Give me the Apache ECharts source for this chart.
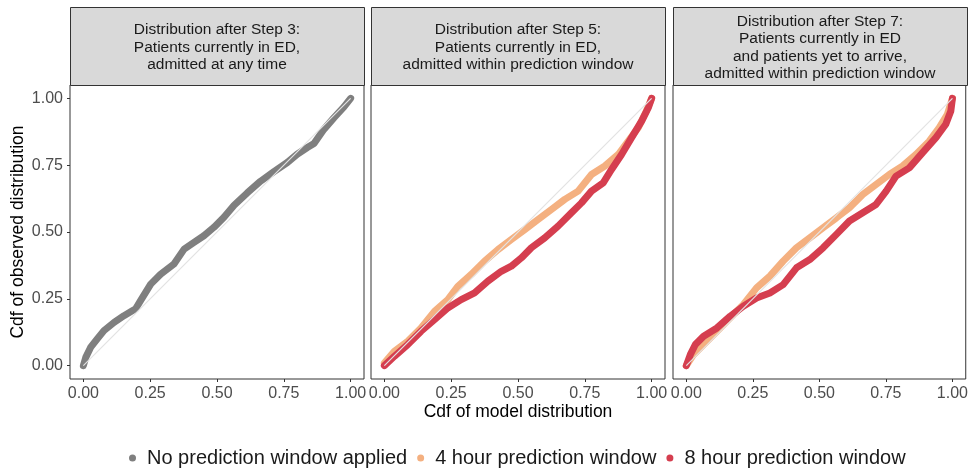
<!DOCTYPE html>
<html>
<head>
<meta charset="utf-8">
<script src="https://cdn.jsdelivr.net/npm/echarts@6/dist/echarts.min.js"></script>
<style>
html,body{margin:0;padding:0;background:#fff;}
#chart{width:971px;height:469px;}
</style>
</head>
<body>
<div id="chart"></div>
<script>
// ---------------- data ----------------
var panelTitles = [
  "Distribution after Step 3:\nPatients currently in ED,\nadmitted at any time",
  "Distribution after Step 5:\nPatients currently in ED,\nadmitted within prediction window",
  "Distribution after Step 7:\nPatients currently in ED\nand patients yet to arrive,\nadmitted within prediction window"
];
var legendNames = ["No prediction window applied", "4 hour prediction window", "8 hour prediction window"];
var tickValues = [0, 0.25, 0.5, 0.75, 1];
var xAxisTitle = "Cdf of model distribution";
var yAxisTitle = "Cdf of observed distribution";

// Step 3 panel: no prediction window
var step3Grey = [
  [0,0],[0.009,0.031],[0.027,0.068],[0.052,0.1],[0.077,0.131],[0.115,0.162],[0.152,0.187],
  [0.183,0.205],[0.195,0.212],[0.214,0.243],[0.252,0.305],[0.289,0.342],[0.339,0.380],[0.377,0.436],
  [0.414,0.461],[0.451,0.486],[0.489,0.518],[0.526,0.555],[0.564,0.600],[0.613,0.646],
  [0.663,0.690],[0.713,0.726],[0.763,0.760],[0.800,0.791],[0.838,0.816],[0.863,0.831],
  [0.900,0.884],[0.938,0.928],[0.975,0.968],[1,1]
];
// Step 5 panel
var step5Orange = [
  [0,0.01],[0.0375,0.054],[0.0875,0.091],[0.1375,0.141],[0.1875,0.203],[0.2375,0.247],
  [0.275,0.297],[0.325,0.341],[0.375,0.391],[0.425,0.434],[0.475,0.472],[0.525,0.509],
  [0.575,0.547],[0.625,0.584],[0.675,0.622],[0.725,0.653],[0.775,0.715],[0.825,0.747],
  [0.875,0.790],[0.9125,0.840],[0.95,0.890],[0.98,0.952],[1,1]
];
var step5Red = [
  [0,0],[0.0375,0.035],[0.0875,0.079],[0.1375,0.129],[0.1875,0.172],[0.2375,0.216],
  [0.2875,0.247],[0.3375,0.272],[0.3875,0.316],[0.4375,0.353],[0.475,0.372],[0.5125,0.403],
  [0.55,0.441],[0.6,0.478],[0.65,0.522],[0.7,0.572],[0.7375,0.609],[0.775,0.653],
  [0.81875,0.684],[0.85,0.734],[0.8875,0.790],[0.925,0.853],[0.9625,0.915],[0.9875,0.965],[1,1]
];
// Step 7 panel
var step7Orange = [
  [0,0],[0.027,0.041],[0.065,0.079],[0.115,0.129],[0.165,0.179],[0.214,0.228],[0.264,0.291],
  [0.314,0.335],[0.364,0.391],[0.414,0.441],[0.464,0.478],[0.514,0.516],[0.564,0.553],
  [0.613,0.591],[0.663,0.640],[0.713,0.678],[0.763,0.715],[0.813,0.747],[0.863,0.790],
  [0.913,0.840],[0.950,0.890],[0.981,0.940],[1,1]
];
var step7Red = [
  [0,0],[0.015,0.041],[0.034,0.079],[0.065,0.110],[0.115,0.141],[0.165,0.185],[0.214,0.222],
  [0.264,0.253],[0.314,0.272],[0.364,0.303],[0.414,0.366],[0.464,0.397],[0.514,0.441],
  [0.564,0.491],[0.613,0.541],[0.663,0.572],[0.713,0.603],[0.751,0.653],[0.788,0.709],
  [0.838,0.740],[0.888,0.797],[0.938,0.853],[0.975,0.903],[0.994,0.953],[1,1]
];
var diagonal = [[0,0],[1,1]];

// ---------------- styling / layout ----------------
var FONT = '"Liberation Sans", Arial, Helvetica, sans-serif';
var colGrey = '#7f7f7f', colOrange = '#F4B080', colRed = '#D53E4F';
var panelLeft = [70, 371, 673], panelW = 294, panelTop = 85, panelH = 294;
var stripTop = 7, stripH = 78;

var chart = echarts.init(document.getElementById('chart'), null, {renderer: 'canvas'});

var grids = [], xAxes = [], yAxes = [], series = [], graphics = [];
for (var i = 0; i < 3; i++) {
  grids.push({left: panelLeft[i], top: panelTop, width: panelW, height: panelH,
    show: true, borderColor: '#333333', borderWidth: 1, backgroundColor: '#ffffff', containLabel: false});
  xAxes.push({type: 'value', gridIndex: i, min: -0.05, max: 1.05, position: 'bottom',
    axisLine: {show: false, onZero: false}, splitLine: {show: false},
    axisTick: {show: true, length: 3, lineStyle: {color: '#333333'}, customValues: tickValues},
    axisLabel: {show: true, customValues: tickValues, color: '#4d4d4d', fontSize: 16, fontFamily: FONT, margin: 7,
      formatter: function (v) { return v.toFixed(2); }}
  });
  yAxes.push({type: 'value', gridIndex: i, min: -0.05, max: 1.05, position: 'left',
    axisLine: {show: false, onZero: false}, splitLine: {show: false},
    axisTick: {show: i === 0, length: 3, lineStyle: {color: '#333333'}, customValues: tickValues},
    axisLabel: {show: i === 0, customValues: tickValues, color: '#4d4d4d', fontSize: 16, fontFamily: FONT, margin: 7,
      formatter: function (v) { return v.toFixed(2); }}
  });
  graphics.push({type: 'rect', shape: {x: panelLeft[i] + 0.5, y: stripTop + 0.5, width: panelW, height: stripH},
    style: {fill: '#d9d9d9', stroke: '#333333', lineWidth: 1}, z: 1});
  graphics.push({type: 'text', x: panelLeft[i] + panelW / 2, y: stripTop + stripH / 2 + 1.5,
    style: {text: panelTitles[i], font: '15.5px ' + FONT, fill: '#1a1a1a', textAlign: 'center',
      textVerticalAlign: 'middle', lineHeight: 17.5}, z: 2});
}

function curve(name, data, idx, color) {
  return {name: name, type: 'line', xAxisIndex: idx, yAxisIndex: idx, data: data,
    showSymbol: false, symbol: 'circle', smooth: false, clip: false, silent: true,
    itemStyle: {color: color},
    lineStyle: {color: color, width: 7, cap: 'round', join: 'round'}, z: 3};
}
function diag(idx) {
  return {name: 'diag', type: 'line', xAxisIndex: idx, yAxisIndex: idx, data: diagonal,
    showSymbol: false, silent: true, lineStyle: {color: '#e3e3e3', width: 1.2}, z: 5};
}
series.push(curve(legendNames[0], step3Grey, 0, colGrey));
series.push(diag(0));
series.push(curve(legendNames[1], step5Orange, 1, colOrange));
series.push(curve(legendNames[2], step5Red, 1, colRed));
series.push(diag(1));
series.push(curve(legendNames[1], step7Orange, 2, colOrange));
series.push(curve(legendNames[2], step7Red, 2, colRed));
series.push(diag(2));

graphics.push({type: 'text', x: 518, y: 412,
  style: {text: xAxisTitle, font: '17.5px ' + FONT, fill: '#000', textAlign: 'center', textVerticalAlign: 'middle'}});
graphics.push({type: 'text', x: 18, y: 232, rotation: Math.PI / 2,
  style: {text: yAxisTitle, font: '17.5px ' + FONT, fill: '#000', textAlign: 'center', textVerticalAlign: 'middle'}});

chart.setOption({
  animation: false,
  backgroundColor: '#ffffff',
  grid: grids, xAxis: xAxes, yAxis: yAxes, series: series,
  graphic: graphics,
  legend: {data: legendNames, left: 124, top: 443, icon: 'circle', itemWidth: 7, itemHeight: 7, itemGap: 10,
    textStyle: {fontSize: 20, fontFamily: FONT, color: '#1a1a1a', padding: [0, 0, 0, 6]}, selectedMode: false}
});
</script>
</body>
</html>
